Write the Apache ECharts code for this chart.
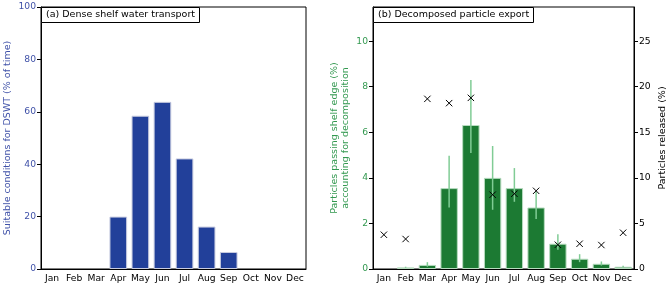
<!DOCTYPE html>
<html>
<head>
<meta charset="utf-8">
<script src="https://cdn.jsdelivr.net/npm/echarts@6/dist/echarts.min.js"></script>
<style>
  html, body { margin: 0; padding: 0; background: #fff; }
  #chart { width: 669px; height: 287px; }
</style>
</head>
<body>
<div id="chart"></div>
<script>
// months shared by both panels
const months = ['Jan', 'Feb', 'Mar', 'Apr', 'May', 'Jun', 'Jul', 'Aug', 'Sep', 'Oct', 'Nov', 'Dec'];

// (a) % of time with suitable DSWT conditions
const dswtPct = [0, 0, 0, 20, 58.5, 63.8, 42.2, 16.2, 6.5, 0, 0, 0];

// (b) particles passing shelf edge accounting for decomposition (%)
const exportPct = [0, 0.07, 0.18, 3.55, 6.32, 4.0, 3.55, 2.7, 1.11, 0.45, 0.23, 0.1];
const exportLow = [0, 0.05, 0.1, 2.7, 5.09, 2.6, 2.95, 2.2, 0.85, 0.3, 0.15, 0.07];
const exportHigh = [0, 0.1, 0.3, 4.97, 8.3, 5.4, 4.43, 3.38, 1.53, 0.65, 0.33, 0.14];

// (b) particles released (%), right axis
const releasedPct = [3.76, 3.29, 18.67, 18.2, 18.78, 8.15, 8.26, 8.58, 2.66, 2.77, 2.63, 3.98];

const blue = '#22409a';
const blueText = '#3f51a8';
const green = '#1c7a33';
const greenText = '#339950';
const errColor = '#80cc95';
const font = 'DejaVu Sans';
const tickSize = 9.2;
const nameSize = 9.5;

const chart = echarts.init(document.getElementById('chart'));

// zero-height bars would still draw their edge, so leave them out
const noZero = arr => arr.map(v => (v === 0 ? null : v));

function xAxisFor(gridIndex) {
  return {
    type: 'category',
    gridIndex: gridIndex,
    data: months,
    axisLine: { lineStyle: { color: '#000' } },
    axisTick: { alignWithLabel: true, length: 4, lineStyle: { color: '#000' } },
    axisLabel: { color: '#000', fontSize: tickSize, fontFamily: font, margin: 5, interval: 0 }
  };
}

function panelTitle(text, left) {
  return {
    text: text,
    left: left, top: 7,
    padding: [3, 5, 3, 5],
    borderColor: '#000', borderWidth: 1, backgroundColor: '#fff',
    textStyle: { fontSize: nameSize, fontWeight: 'normal', fontFamily: font, color: '#000' }
  };
}

const option = {
  animation: false,
  backgroundColor: '#fff',
  title: [
    panelTitle('(a) Dense shelf water transport', 41),
    panelTitle('(b) Decomposed particle export', 373)
  ],
  grid: [
    { left: 41, right: 363, top: 7, bottom: 18, show: true, borderColor: '#000', borderWidth: 1 },
    { left: 373, right: 32, top: 7, bottom: 18, show: true, borderColor: '#000', borderWidth: 1 }
  ],
  xAxis: [xAxisFor(0), xAxisFor(1)],
  yAxis: [
    {
      type: 'value', gridIndex: 0, min: 0, max: 100, interval: 20,
      name: 'Suitable conditions for DSWT (% of time)',
      nameLocation: 'middle', nameGap: 28,
      nameTextStyle: { color: blueText, fontSize: nameSize, fontFamily: font },
      splitLine: { show: false },
      axisLine: { show: true, lineStyle: { color: '#000' } },
      axisTick: { show: true, length: 4, lineStyle: { color: '#000' } },
      axisLabel: { color: blueText, fontSize: tickSize, fontFamily: font, margin: 5 }
    },
    {
      type: 'value', gridIndex: 1, min: 0, max: 11.5, interval: 2,
      name: 'Particles passing shelf edge (%)\naccounting for decomposition',
      nameLocation: 'middle', nameGap: 22,
      nameTextStyle: { color: greenText, fontSize: nameSize, fontFamily: font, lineHeight: 11 },
      splitLine: { show: false },
      axisLine: { show: true, lineStyle: { color: '#000' } },
      axisTick: { show: true, length: 4, lineStyle: { color: '#000' } },
      axisLabel: { color: greenText, fontSize: tickSize, fontFamily: font, margin: 5, showMaxLabel: false }
    },
    {
      type: 'value', gridIndex: 1, position: 'right', min: 0, max: 28.75, interval: 5,
      name: 'Particles released (%)',
      nameLocation: 'middle', nameGap: 24, nameRotate: 90,
      nameTextStyle: { color: '#000', fontSize: nameSize, fontFamily: font },
      splitLine: { show: false },
      axisLine: { show: true, lineStyle: { color: '#000' } },
      axisTick: { show: true, length: 4, lineStyle: { color: '#000' } },
      axisLabel: { color: '#000', fontSize: tickSize, fontFamily: font, margin: 5, showMaxLabel: false }
    }
  ],
  series: [
    {
      type: 'bar', xAxisIndex: 0, yAxisIndex: 0,
      data: noZero(dswtPct),
      barWidth: '80%',
      itemStyle: { color: blue, borderColor: '#c8cce0', borderWidth: 1 }
    },
    {
      type: 'bar', xAxisIndex: 1, yAxisIndex: 1,
      data: noZero(exportPct),
      barWidth: '80%',
      itemStyle: { color: green, borderColor: '#b8dcc0', borderWidth: 1 }
    },
    {
      // error bars
      type: 'custom', xAxisIndex: 1, yAxisIndex: 1, z: 5,
      data: months.map((m, i) => [i, exportLow[i], exportHigh[i]]),
      renderItem: function (params, api) {
        const lo = api.coord([api.value(0), api.value(1)]);
        const hi = api.coord([api.value(0), api.value(2)]);
        return {
          type: 'line',
          shape: { x1: lo[0], y1: lo[1], x2: hi[0], y2: hi[1] },
          style: { stroke: errColor, lineWidth: 1.5 }
        };
      }
    },
    {
      // x markers on right axis
      type: 'custom', xAxisIndex: 1, yAxisIndex: 2, z: 6,
      data: months.map((m, i) => [i, releasedPct[i]]),
      renderItem: function (params, api) {
        const p = api.coord([api.value(0), api.value(1)]);
        const s = 3.2;
        return {
          type: 'group',
          children: [
            { type: 'line', shape: { x1: p[0] - s, y1: p[1] - s, x2: p[0] + s, y2: p[1] + s }, style: { stroke: '#000', lineWidth: 1 } },
            { type: 'line', shape: { x1: p[0] - s, y1: p[1] + s, x2: p[0] + s, y2: p[1] - s }, style: { stroke: '#000', lineWidth: 1 } }
          ]
        };
      }
    }
  ]
};

chart.setOption(option);
</script>
</body>
</html>
